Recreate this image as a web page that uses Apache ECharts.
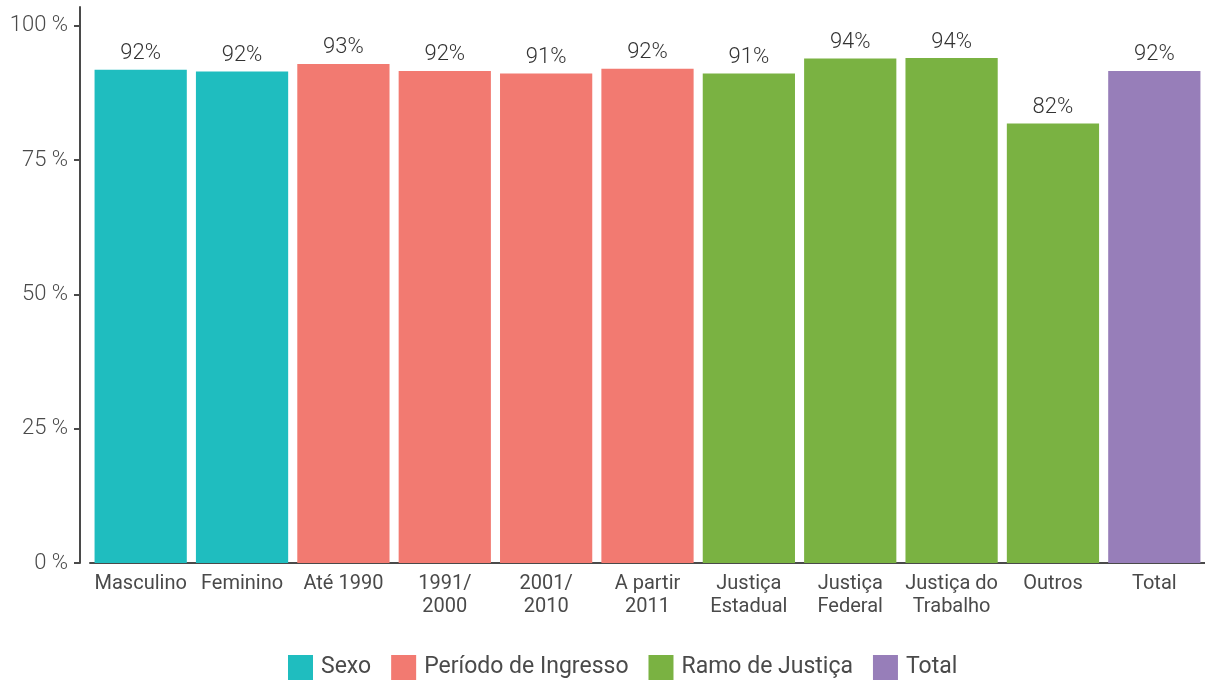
<!DOCTYPE html>
<html>
<head>
<meta charset="utf-8">
<script src="https://cdn.jsdelivr.net/npm/echarts@6/dist/echarts.min.js"></script>
<style>
  html, body { margin: 0; padding: 0; background: #fff; }
  #chart { width: 1205px; height: 683px; }
</style>
</head>
<body>
<div id="chart"></div>
<script>
const categories = ["Masculino", "Feminino", "Até 1990", "1991/\n2000", "2001/\n2010", "A partir\n2011",
  "Justiça\nEstadual", "Justiça\nFederal", "Justiça do\nTrabalho", "Outros", "Total"];
// one array per legend group, '-' where the group has no bar
const sexo = [91.8, 91.5, "-", "-", "-", "-", "-", "-", "-", "-", "-"];
const periodo = ["-", "-", 92.9, 91.6, 91.1, 92.0, "-", "-", "-", "-", "-"];
const ramo = ["-", "-", "-", "-", "-", "-", 91.1, 93.9, 94.0, 81.8, "-"];
const total = ["-", "-", "-", "-", "-", "-", "-", "-", "-", "-", 91.6];
const yTicks = [0, 25, 50, 75, 100];

const groups = [
  { name: "Sexo", data: sexo, color: "#1FBDBF" },
  { name: "Período de Ingresso", data: periodo, color: "#F27A71" },
  { name: "Ramo de Justiça", data: ramo, color: "#7AB242" },
  { name: "Total", data: total, color: "#977EB9" }
];

const textColor = "#4a4a4a";
const chart = echarts.init(document.getElementById("chart"));

chart.setOption({
  animation: false,
  textStyle: { fontFamily: "Roboto" },
  grid: { left: 90, right: 0, top: 7, bottom: 120, containLabel: false },
  legend: {
    bottom: -2,
    left: 283,
    itemWidth: 25,
    itemHeight: 25,
    itemGap: 20,
    icon: "rect",
    textStyle: { fontSize: 23, color: textColor, fontFamily: "Roboto", padding: [0, 0, 0, 3] },
    data: groups.map(g => g.name)
  },
  xAxis: {
    type: "category",
    data: categories,
    axisLine: { lineStyle: { color: textColor, width: 2 } },
    axisTick: { alignWithLabel: true, length: 5, lineStyle: { color: textColor, width: 2 } },
    axisLabel: { color: textColor, fontSize: 20, lineHeight: 23, margin: 9, interval: 0 }
  },
  yAxis: {
    type: "value",
    min: 0,
    max: 103.5,
    offset: 10,
    splitLine: { show: false },
    axisLine: { show: true, lineStyle: { color: textColor, width: 2 } },
    axisTick: { show: true, length: 6, customValues: yTicks, lineStyle: { color: textColor, width: 2 } },
    axisLabel: {
      color: textColor,
      fontSize: 22,
      fontWeight: 300,
      margin: 12,
      customValues: yTicks,
      formatter: v => v + " %"
    }
  },
  series: groups.map(g => ({
    name: g.name,
    type: "bar",
    stack: "all",
    data: g.data,
    barWidth: "91%",
    itemStyle: { color: g.color },
    label: {
      show: true,
      position: "top",
      distance: 5,
      color: "#333",
      fontSize: 22,
      fontWeight: 300,
      formatter: p => Math.round(p.value) + "%"
    }
  }))
});
</script>
</body>
</html>
